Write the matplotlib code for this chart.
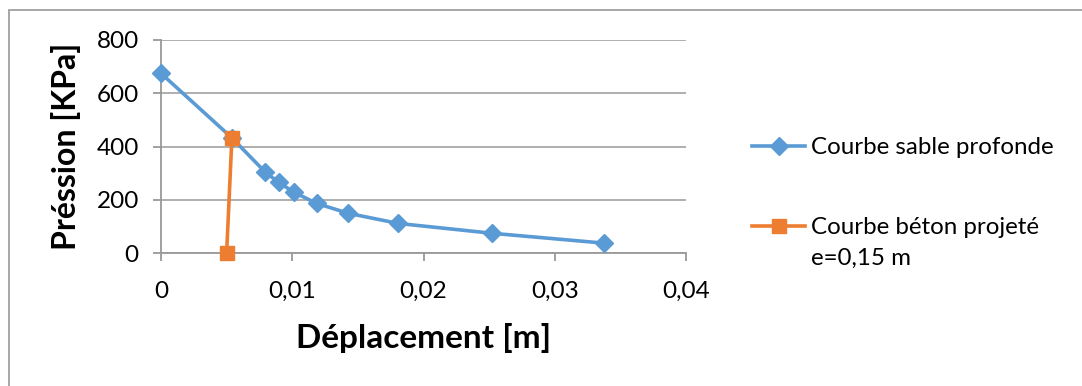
import matplotlib.pyplot as plt
from matplotlib.patches import Rectangle
from matplotlib.ticker import FuncFormatter

plt.rcParams['font.family'] = ['Lato', 'DejaVu Sans']

# courbe sable profonde
sable_x = [0, 0.0054, 0.00795, 0.00897, 0.01013, 0.01186, 0.01427, 0.01808, 0.02524, 0.03378]
sable_p = [675, 433, 304, 266, 229, 187, 150, 112, 75, 38]

# courbe béton projeté e=0,15 m
beton_x = [0.0050, 0.0054]
beton_p = [0, 431]

x_ticks = [0, 0.01, 0.02, 0.03, 0.04]
y_ticks = [0, 200, 400, 600, 800]

blue = '#5B9BD5'
orange = '#ED7D31'
grey = '#999999'

fig = plt.figure(figsize=(10.82, 3.86), dpi=100)
W, H = 1082, 386

# outer chart frame (only top and left visible)
fig.patches.append(Rectangle((9 / W, -0.1), 1.2, (386 - 10) / H + 0.1,
                             transform=fig.transFigure, fill=False,
                             edgecolor='#A0A0A0', linewidth=1.3))

ax = fig.add_axes([161 / W, (H - 253.3) / H, 525 / W, 213.3 / H])

ax.plot(sable_x, sable_p, color=blue, lw=2.6, marker='D', ms=9,
        label='Courbe sable profonde', zorder=3, clip_on=False)
ax.plot(beton_x, beton_p, color=orange, lw=2.6, marker='s', ms=10,
        label='Courbe béton projeté', zorder=4, clip_on=False)

ax.set_xlim(0, 0.04)
ax.set_ylim(0, 800)
ax.set_xticks(x_ticks)
ax.set_yticks(y_ticks)
ax.xaxis.set_major_formatter(FuncFormatter(lambda v, p: ('%g' % v).replace('.', ',')))

for s in ['top', 'right']:
    ax.spines[s].set_visible(False)
for s in ['left', 'bottom']:
    ax.spines[s].set_color(grey)
    ax.spines[s].set_linewidth(1.3)
ax.grid(axis='y', color=grey, lw=1.1)
ax.set_axisbelow(True)
ax.tick_params(axis='both', colors=grey, length=6, width=1.3, labelsize=17.5,
               labelcolor='black')
ax.tick_params(axis='x', pad=14)
ax.tick_params(axis='y', pad=10)
for sp in ax.spines.values():
    sp.set_clip_on(False)

ax.set_xlabel('Déplacement [m]', fontsize=24, fontweight='bold', labelpad=15)
ax.set_ylabel('Préssion [KPa]', fontsize=23, fontweight='bold', labelpad=11)

leg = ax.legend(loc='upper left', bbox_to_anchor=(752 / W, (H - 137) / H),
                bbox_transform=fig.transFigure, frameon=False,
                fontsize=17.4, handlelength=2.2, handletextpad=0.25,
                labelspacing=2.45, borderaxespad=0, borderpad=0)

# second line of the orange label, just under "Courbe béton projeté"
fig.canvas.draw()
bb = leg.get_texts()[1].get_window_extent()
fig.text(bb.x0 / W, (bb.y0 - 10) / H, 'e=0,15 m', fontsize=17.4, va='top', ha='left')

fig.savefig('out.png', dpi=100)
